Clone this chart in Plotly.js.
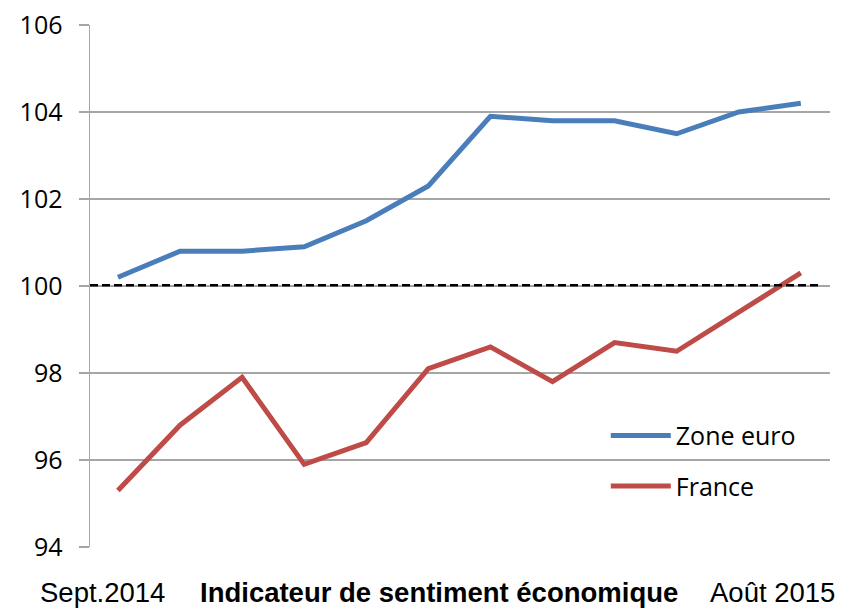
<!DOCTYPE html>
<html><head><meta charset="utf-8">
<script src="https://cdn.plot.ly/plotly-3.0.1.min.js"></script>
<style>body{margin:0}#c{width:858px;height:610px}</style>
</head><body><div id="c"></div>
<script>
const months = ["Sept.2014","Oct.2014","Nov.2014","Déc.2014","Janv.2015","Févr.2015","Mars 2015","Avr.2015","Mai 2015","Juin 2015","Juil.2015","Août 2015"];
const zoneEuro = [100.2, 100.8, 100.8, 100.9, 101.5, 102.3, 103.9, 103.8, 103.8, 103.5, 104.0, 104.2];
const france = [95.3, 96.8, 97.9, 95.9, 96.4, 98.1, 98.6, 97.8, 98.7, 98.5, 99.4, 100.3];
const yTicks = [94, 96, 98, 100, 102, 104, 106];
const reference = 100;

const idx = months.map((m, i) => i);
const traces = [
  {x: idx, y: zoneEuro, name: "Zone euro", type: "scatter", mode: "lines", legendgroup: "a",
   line: {color: "#4a7ebb", width: 5}, text: months, hoverinfo: "text+y"},
  {x: idx, y: france, name: "France", type: "scatter", mode: "lines", legendgroup: "b",
   line: {color: "#be4b48", width: 5}, text: months, hoverinfo: "text+y"}
];
const layout = {
  width: 858, height: 610,
  margin: {l: 90, r: 28, t: 25, b: 63},
  paper_bgcolor: "#fff", plot_bgcolor: "#fff",
  font: {family: "Open Sans, sans-serif", size: 20, color: "#000"},
  showlegend: true,
  legend: {x: 0.697, y: 0.257, xanchor: "left", yanchor: "top", bgcolor: "rgba(0,0,0,0)",
           font: {size: 25, family: "Open Sans, sans-serif"}, itemwidth: 60,
           traceorder: "grouped", tracegroupgap: 15},
  xaxis: {range: [-0.45, 11.47], showgrid: false, zeroline: false, showticklabels: false,
          ticks: "", showline: false, fixedrange: true},
  yaxis: {range: [94, 106], tickvals: yTicks, ticktext: yTicks.map(String),
          showgrid: true, gridcolor: "#a6a6a6", gridwidth: 1.5, zeroline: false,
          showline: true, linecolor: "#a6a6a6", linewidth: 1.5,
          ticks: "outside", ticklen: 10, tickcolor: "#a6a6a6", tickwidth: 1.5,
          tickfont: {size: 25, family: "Open Sans, sans-serif"}, ticklabelstandoff: 11},
  shapes: [
    {type: "line", xref: "paper", yref: "y", x0: 0, x1: 0.985, y0: reference + 0.02, y1: reference + 0.02,
     line: {color: "#000", width: 2.5, dash: "8px,4px"}, layer: "above"}
  ],
  annotations: [
    {text: "Sept.2014", xref: "paper", yref: "paper", x: -0.07, y: -0.088, xanchor: "left", yanchor: "middle",
     showarrow: false, font: {family: "Liberation Sans, Arial, sans-serif", size: 27.5}},
    {text: "<b>Indicateur de sentiment économique</b>", xref: "paper", yref: "paper", x: 0.472, y: -0.088,
     xanchor: "center", yanchor: "middle", showarrow: false, font: {family: "Liberation Sans, Arial, sans-serif", size: 27.5}},
    {text: "Août 2015", xref: "paper", yref: "paper", x: 1.01, y: -0.088, xanchor: "right", yanchor: "middle",
     showarrow: false, font: {family: "Liberation Sans, Arial, sans-serif", size: 27.5}}
  ]
};
Plotly.newPlot("c", traces, layout, {displayModeBar: false, staticPlot: true});
</script></body></html>
